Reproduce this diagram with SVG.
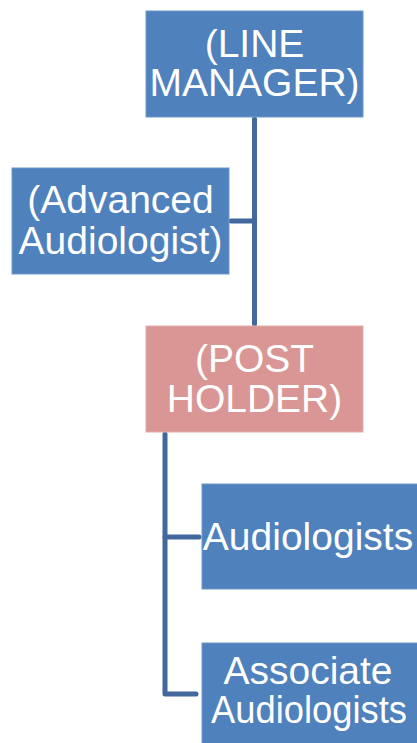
<svg xmlns="http://www.w3.org/2000/svg" width="417" height="743" viewBox="0 0 417 743">
<style>
.b{fill:#4F81BD;stroke:#6F97CA;stroke-width:1}
.p{fill:#D99694;stroke:#E3AEAC;stroke-width:1}
text{font-family:"Liberation Sans",Arial,sans-serif;fill:#fff;text-anchor:middle;font-size:39px}
.c{fill:none;stroke:#41699E;stroke-width:5;stroke-linejoin:round;stroke-linecap:round}
</style>
<rect width="417" height="743" fill="#fff"/>
<g id="connectors">
<path class="c" d="M254.5 119V324"/>
<path class="c" d="M231 221H254.5"/>
<path class="c" d="M165 434V694H196"/>
<path class="c" d="M165 537H199"/>
</g>
<g id="line-manager">
<rect class="b" x="146" y="11" width="217" height="106"/>
<text x="254.5" y="57">(LINE</text>
<text x="254.5" y="96">MANAGER)</text>
</g>
<g id="advanced-audiologist">
<rect class="b" x="12" y="168" width="217" height="106"/>
<text x="120.5" y="213" font-size="38">(Advanced</text>
<text x="120.5" y="254" font-size="38">Audiologist)</text>
</g>
<g id="post-holder">
<rect class="p" x="146" y="326" width="217" height="106"/>
<text x="254.5" y="372">(POST</text>
<text x="254.5" y="412">HOLDER)</text>
</g>
<g id="audiologists">
<rect class="b" x="202" y="484" width="216" height="105"/>
<text x="308" y="550">Audiologists</text>
</g>
<g id="associate-audiologists">
<rect class="b" x="202" y="643" width="216" height="101"/>
<text x="308" y="684" font-size="34">Associate</text>
<text x="309" y="723" font-size="36" textLength="196" lengthAdjust="spacingAndGlyphs">Audiologists</text>
</g>
</svg>
